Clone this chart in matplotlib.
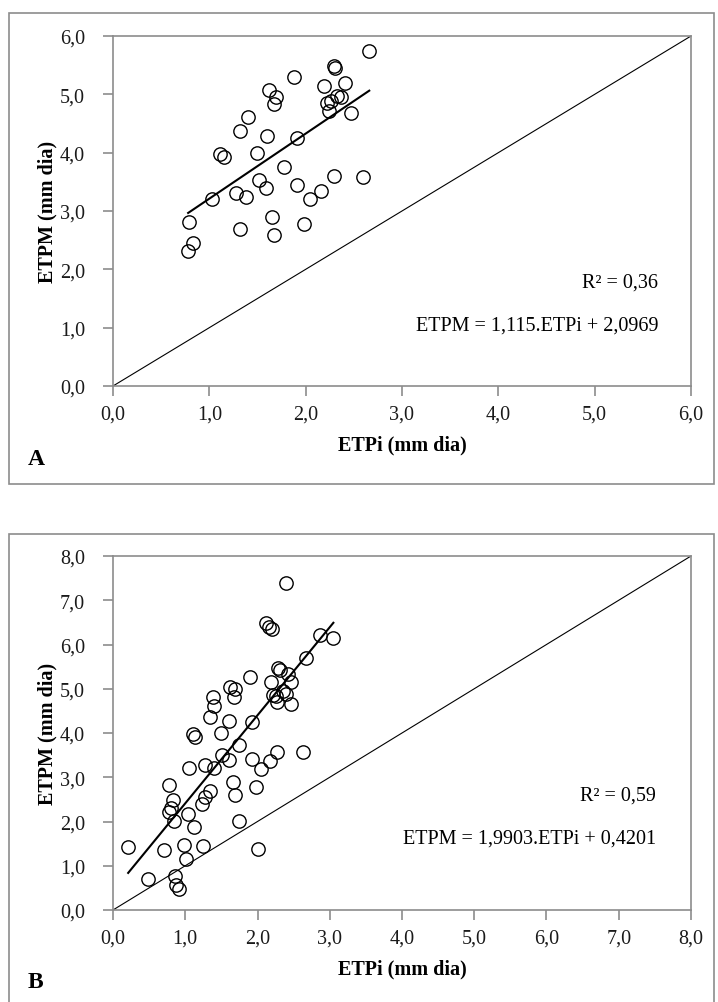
import numpy as np
import matplotlib
matplotlib.use("Agg")
import matplotlib.pyplot as plt
from matplotlib.patches import Rectangle
from matplotlib.ticker import FuncFormatter

plt.rcParams['font.family'] = ['Liberation Serif', 'DejaVu Serif']

# panel A data (ETPi x ETPM)
a_etpi = [2.66, 2.29, 2.30, 1.88, 2.19, 2.41, 1.62, 1.69, 1.67, 2.33, 2.37, 2.22,
          2.26, 2.24, 2.47, 1.40, 1.32, 1.60, 1.91, 1.11, 1.15, 1.49, 1.77, 1.52,
          1.59, 2.29, 2.60, 1.91, 2.16, 2.04, 1.03, 1.28, 1.38, 0.79, 1.65, 1.32,
          1.67, 1.98, 0.83, 0.78]
a_etpm = [5.75, 5.48, 5.45, 5.30, 5.15, 5.19, 5.07, 4.95, 4.84, 4.98, 4.95, 4.85,
          4.88, 4.72, 4.68, 4.62, 4.37, 4.28, 4.25, 3.98, 3.92, 3.99, 3.76, 3.53,
          3.40, 3.60, 3.59, 3.44, 3.35, 3.21, 3.21, 3.31, 3.24, 2.82, 2.90, 2.70,
          2.59, 2.77, 2.46, 2.32]
a_slope, a_icpt = 1.115, 2.0969
a_r2 = "R² = 0,36"
a_eq = "ETPM = 1,115.ETPi + 2,0969"

# panel B data
b_etpi = [0.21, 0.48, 0.70, 0.86, 0.87, 0.92, 0.98, 1.01, 1.24, 1.12, 0.84, 1.74,
          2.01, 1.04, 0.78, 0.80, 0.83, 1.23, 1.28, 1.34, 0.78, 1.66, 1.69, 1.98,
          1.05, 1.28, 1.40, 2.05, 1.51, 1.60, 1.92, 2.17, 2.27, 2.63, 1.75, 1.11,
          1.14, 1.49, 1.34, 1.60, 1.92, 1.40, 1.39, 1.62, 1.69, 1.67, 1.89, 2.19,
          2.46, 2.21, 2.25, 2.35, 2.40, 2.27, 2.47, 2.29, 2.31, 2.42, 2.67, 2.87,
          3.05, 2.12, 2.16, 2.20, 2.40]
b_etpm = [1.42, 0.70, 1.35, 0.76, 0.57, 0.47, 1.48, 1.15, 1.44, 1.87, 2.01, 2.02,
          1.38, 2.17, 2.22, 2.30, 2.48, 2.40, 2.55, 2.70, 2.82, 2.89, 2.59, 2.77,
          3.21, 3.28, 3.21, 3.18, 3.51, 3.40, 3.42, 3.36, 3.58, 3.58, 3.74, 3.98,
          3.90, 4.00, 4.36, 4.26, 4.25, 4.60, 4.82, 5.04, 4.99, 4.82, 5.27, 5.15,
          5.15, 4.87, 4.84, 4.94, 4.89, 4.70, 4.66, 5.46, 5.42, 5.34, 5.70, 6.22,
          6.14, 6.48, 6.40, 6.34, 7.40]
b_slope, b_icpt = 1.9903, 0.4201
b_r2 = "R² = 0,59"
b_eq = "ETPM = 1,9903.ETPi + 0,4201"

W, H = 718, 1003
fig = plt.figure(figsize=(W / 100, H / 100), dpi=100)

gray = '#8c8c8c'
fs = 14.5

# chart area borders
fig.add_artist(Rectangle((9 / W, 1 - 485 / H), 705 / W, 471 / H, transform=fig.transFigure,
                         fill=False, edgecolor=gray, lw=1.2))
fig.add_artist(Rectangle((9 / W, -0.01), 705 / W, 1 - 535 / H + 0.01, transform=fig.transFigure,
                         fill=False, edgecolor=gray, lw=1.2))

comma = FuncFormatter(lambda v, p: f"{v:.1f}".replace('.', ','))


def panel(top, bottom, xs, ys, slope, icpt, lim, r2, eq, r2y, eqy, txtx, letter, lettery):
    h = bottom - top
    ax = fig.add_axes([113 / W, 1 - bottom / H, 578 / W, h / H])
    ax.set_xlim(0, lim)
    ax.set_ylim(0, lim)
    ax.plot([0, lim], [0, lim], color='black', lw=0.8)
    xx = np.array([min(xs), max(xs)])
    ax.plot(xx, slope * xx + icpt, color='black', lw=1.5)
    ax.plot(xs, ys, 'o', ms=9.6, mfc='none', mec='black', mew=1.0)
    ax.set_xticks(range(lim + 1))
    ax.set_yticks(range(lim + 1))
    ax.xaxis.set_major_formatter(comma)
    ax.yaxis.set_major_formatter(comma)
    for s in ax.spines.values():
        s.set_color(gray)
        s.set_linewidth(1.2)
    ax.tick_params(direction='out', length=7, color=gray, width=1.2, labelsize=fs,
                   labelcolor='#1a1a1a')
    ax.tick_params(axis='x', pad=6)
    ax.tick_params(axis='y', pad=13)
    ax.set_xlabel('ETPi (mm dia)', fontsize=fs, fontweight='bold', va='center')
    ax.set_ylabel('ETPM (mm dia)', fontsize=fs, fontweight='bold', va='center')
    ax.xaxis.set_label_coords(0.5, -58 / h)
    ax.yaxis.set_label_coords(-66 / 578, 0.5)
    ax.text(txtx, r2y, r2, ha='right', va='center', fontsize=fs)
    ax.text(txtx, eqy, eq, ha='right', va='center', fontsize=fs)
    fig.text(28 / W, 1 - lettery / H, letter, fontsize=17, fontweight='bold',
             ha='left', va='center')
    return ax


panel(37, 387, a_etpi, a_etpm, a_slope, a_icpt, 6,
      a_r2, a_eq, 1.78, 1.04, 5.66, 'A', 460)
panel(557, 911, b_etpi, b_etpm, b_slope, b_icpt, 8,
      b_r2, b_eq, 2.60, 1.63, 7.52, 'B', 983)

fig.savefig('out.png', dpi=100)
